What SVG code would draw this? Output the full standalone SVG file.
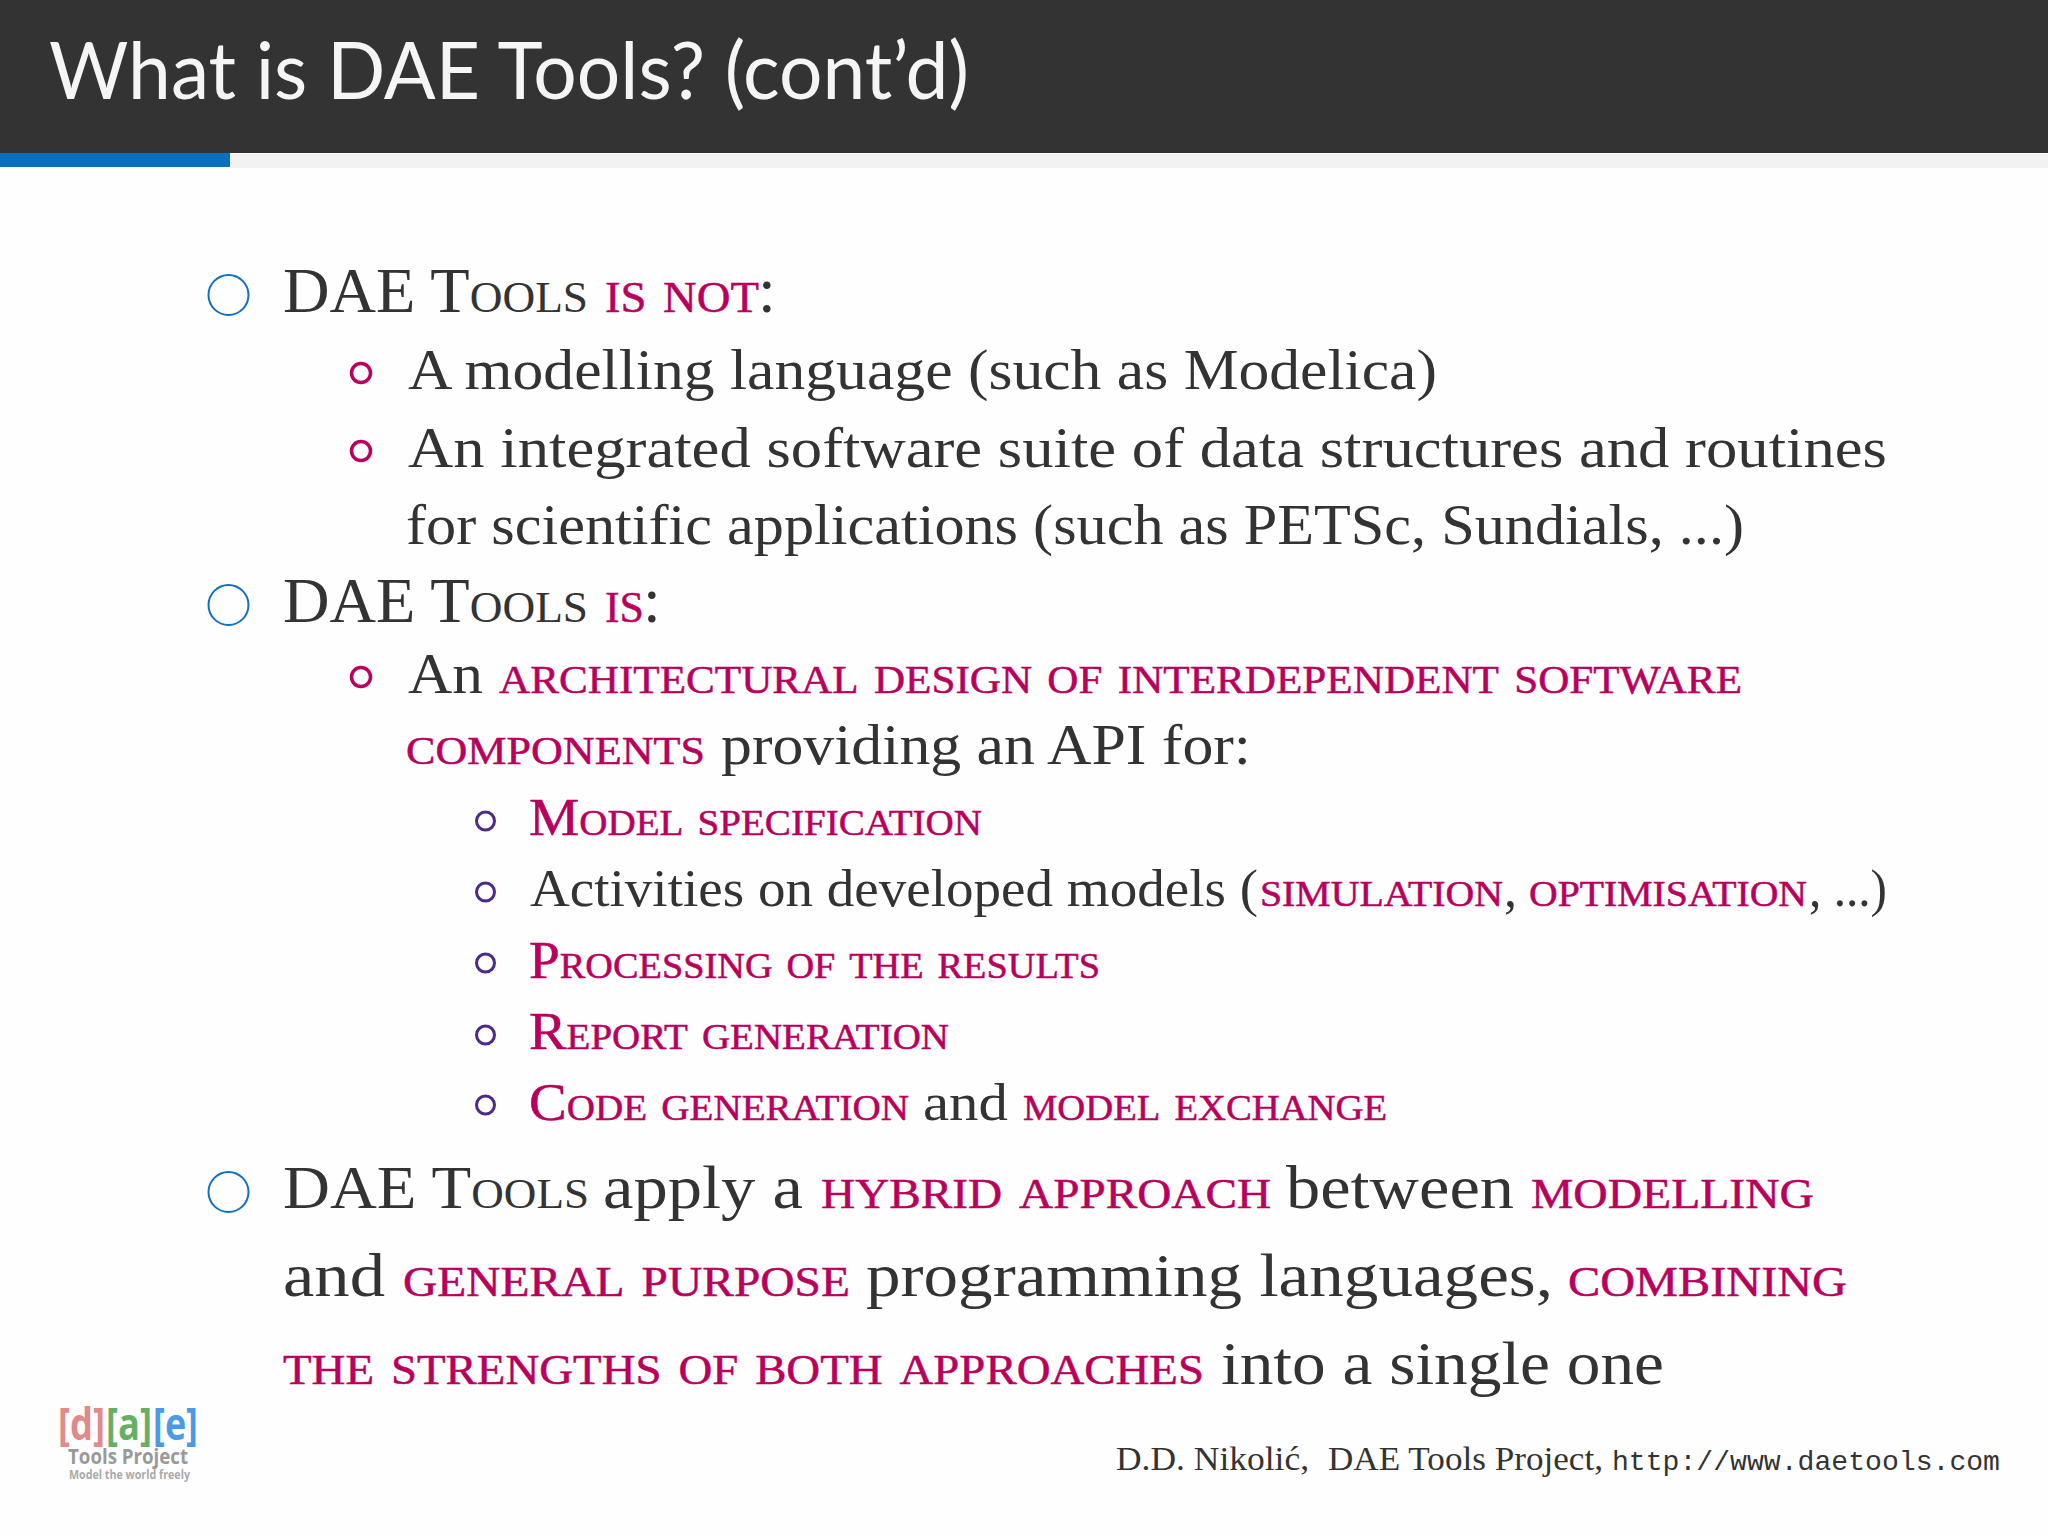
<svg xmlns="http://www.w3.org/2000/svg" width="2048" height="1536" viewBox="0 0 2048 1536">
<style>
text{font-family:"Liberation Serif",serif;fill:#333}
tspan,text{white-space:pre}
.title{font-family:Lato,"Open Sans",sans-serif;font-size:80px;fill:#f5f5f5}
.l1{font-size:64px}.l2{font-size:58px}.l3{font-size:52px}.l4{font-size:62px}
.sc{font-variant:small-caps}
.r{fill:#b8005c;stroke:#b8005c;stroke-width:.5}
.big{fill:none;stroke:#0f6fc0;stroke-width:2}
.mid{fill:none;stroke:#b8005c;stroke-width:3.5}
.small{fill:none;stroke:#4b2a8a;stroke-width:3}
.foot{font-size:34px}
.mono{font-family:"Liberation Mono",monospace;font-size:28px}
.logo{font-family:"Open Sans",sans-serif;font-weight:700}
</style>
<rect width="2048" height="1536" fill="#fefefe"/>
<g id="header">
<rect width="2048" height="153" fill="#333"/>
<rect x="230" y="154" width="1818" height="14" fill="#f2f2f0"/>
<rect y="153" width="230" height="14" fill="#0b6fc0"/>
<text class="title" x="49" y="99" textLength="920" lengthAdjust="spacingAndGlyphs">What is DAE Tools? (cont’d)</text>
</g>
<g id="bullets">
<circle class="big" cx="228.5" cy="295" r="20"/>
<circle class="big" cx="228.5" cy="605" r="20"/>
<circle class="big" cx="228.5" cy="1192" r="20"/>
<circle class="mid" cx="361" cy="373" r="9.5"/>
<circle class="mid" cx="361" cy="451" r="9.5"/>
<circle class="mid" cx="361" cy="677" r="9.5"/>
<circle class="small" cx="485.5" cy="821" r="9"/>
<circle class="small" cx="485.5" cy="892" r="9"/>
<circle class="small" cx="485.5" cy="963" r="9"/>
<circle class="small" cx="485.5" cy="1035" r="9"/>
<circle class="small" cx="485.5" cy="1105" r="9"/>
</g>
<g id="body">
<text class="l1" y="312"><tspan class="sc" x="283" textLength="305" lengthAdjust="spacingAndGlyphs">DAE Tools</tspan><tspan class="sc r" x="605" textLength="154" lengthAdjust="spacingAndGlyphs">is not</tspan><tspan x="758">:</tspan></text>
<text class="l2" y="389"><tspan x="408" textLength="1029" lengthAdjust="spacingAndGlyphs">A modelling language (such as Modelica)</tspan></text>
<text class="l2" y="467"><tspan x="408" textLength="1479" lengthAdjust="spacingAndGlyphs">An integrated software suite of data structures and routines</tspan></text>
<text class="l2" y="544"><tspan x="406" textLength="1338" lengthAdjust="spacingAndGlyphs">for scientific applications (such as PETSc, Sundials, ...)</tspan></text>
<text class="l1" y="622"><tspan class="sc" x="283" textLength="305" lengthAdjust="spacingAndGlyphs">DAE Tools</tspan><tspan class="sc r" x="605" textLength="39" lengthAdjust="spacingAndGlyphs">is</tspan><tspan x="643">:</tspan></text>
<text class="l2" y="693"><tspan x="408" textLength="75" lengthAdjust="spacingAndGlyphs">An</tspan><tspan class="sc r" x="499" textLength="1243" lengthAdjust="spacingAndGlyphs">architectural design of interdependent software</tspan></text>
<text class="l2" y="764"><tspan class="sc r" x="406" textLength="299" lengthAdjust="spacingAndGlyphs">components</tspan><tspan x="721" textLength="530" lengthAdjust="spacingAndGlyphs">providing an API for:</tspan></text>
<text class="l3" y="835"><tspan class="sc r" x="529" textLength="453" lengthAdjust="spacingAndGlyphs">Model specification</tspan></text>
<text class="l3" y="906"><tspan x="530" textLength="728" lengthAdjust="spacingAndGlyphs">Activities on developed models (</tspan><tspan class="sc r" x="1260" textLength="243" lengthAdjust="spacingAndGlyphs">simulation</tspan><tspan x="1504">,</tspan><tspan class="sc r" x="1529" textLength="278" lengthAdjust="spacingAndGlyphs">optimisation</tspan><tspan x="1809" textLength="78" lengthAdjust="spacingAndGlyphs">, ...)</tspan></text>
<text class="l3" y="978"><tspan class="sc r" x="529" textLength="571" lengthAdjust="spacingAndGlyphs">Processing of the results</tspan></text>
<text class="l3" y="1049"><tspan class="sc r" x="529" textLength="420" lengthAdjust="spacingAndGlyphs">Report generation</tspan></text>
<text class="l3" y="1120"><tspan class="sc r" x="529" textLength="380" lengthAdjust="spacingAndGlyphs">Code generation</tspan><tspan x="923" textLength="85" lengthAdjust="spacingAndGlyphs">and</tspan><tspan class="sc r" x="1023" textLength="364" lengthAdjust="spacingAndGlyphs">model exchange</tspan></text>
<text class="l4" y="1208"><tspan class="sc" x="283" textLength="306" lengthAdjust="spacingAndGlyphs">DAE Tools</tspan><tspan x="603" textLength="200" lengthAdjust="spacingAndGlyphs">apply a</tspan><tspan class="sc r" x="821" textLength="450" lengthAdjust="spacingAndGlyphs">hybrid approach</tspan><tspan x="1286" textLength="228" lengthAdjust="spacingAndGlyphs">between</tspan><tspan class="sc r" x="1531" textLength="283" lengthAdjust="spacingAndGlyphs">modelling</tspan></text>
<text class="l4" y="1296"><tspan x="283" textLength="102" lengthAdjust="spacingAndGlyphs">and</tspan><tspan class="sc r" x="403" textLength="447" lengthAdjust="spacingAndGlyphs">general purpose</tspan><tspan x="866" textLength="687" lengthAdjust="spacingAndGlyphs">programming languages,</tspan><tspan class="sc r" x="1568" textLength="279" lengthAdjust="spacingAndGlyphs">combining</tspan></text>
<text class="l4" y="1384"><tspan class="sc r" x="283" textLength="921" lengthAdjust="spacingAndGlyphs">the strengths of both approaches</tspan><tspan x="1221" textLength="443" lengthAdjust="spacingAndGlyphs">into a single one</tspan></text>
</g>
<g id="footer">
<text class="foot" y="1470"><tspan x="1116" textLength="193" lengthAdjust="spacingAndGlyphs">D.D. Nikolić,</tspan><tspan x="1328" textLength="275" lengthAdjust="spacingAndGlyphs">DAE Tools Project,</tspan></text>
<text class="mono" x="1612" y="1470" textLength="388" lengthAdjust="spacingAndGlyphs">http://www.daetools.com</text>
</g>
<g id="logo">
<text class="logo" x="58" y="1440" font-size="44" style="fill:#e08a8a" textLength="47" lengthAdjust="spacingAndGlyphs">[d]</text>
<text class="logo" x="106" y="1440" font-size="44" style="fill:#66b066" textLength="46" lengthAdjust="spacingAndGlyphs">[a]</text>
<text class="logo" x="153" y="1440" font-size="44" style="fill:#4a9ae6" textLength="45" lengthAdjust="spacingAndGlyphs">[e]</text>
<text class="logo" x="68" y="1464" font-size="21" style="fill:#999" textLength="120" lengthAdjust="spacingAndGlyphs">Tools Project</text>
<text class="logo" x="69" y="1479" font-size="12" style="fill:#aaa" textLength="121" lengthAdjust="spacingAndGlyphs">Model the world freely</text>
</g>
</svg>
